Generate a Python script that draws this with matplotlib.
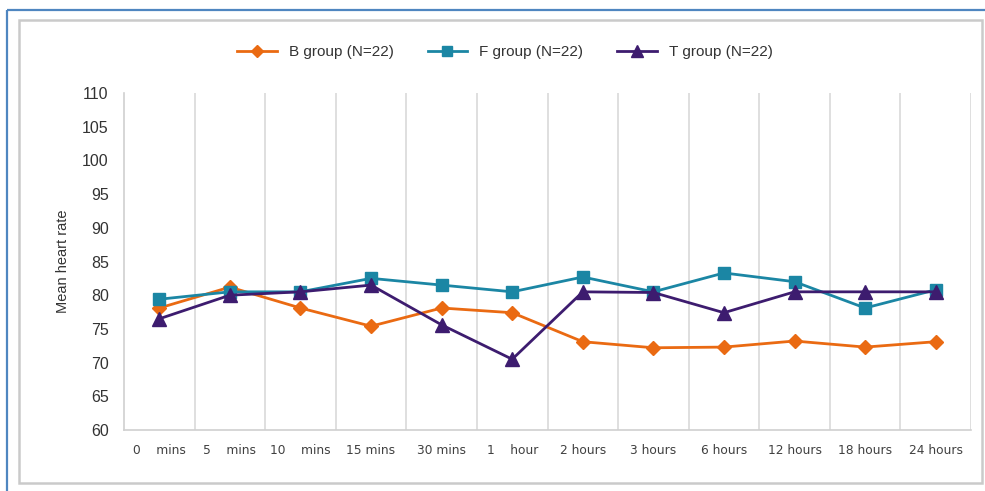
import matplotlib
matplotlib.use("Agg")
import matplotlib.pyplot as plt
from matplotlib.patches import Rectangle

categories = ["0    mins", "5    mins", "10    mins", "15 mins", "30 mins", "1    hour",
              "2 hours", "3 hours", "6 hours", "12 hours", "18 hours", "24 hours"]
b_group = [78.1, 81.2, 78.1, 75.4, 78.1, 77.4, 73.1, 72.2, 72.3, 73.2, 72.3, 73.1]
f_group = [79.4, 80.5, 80.5, 82.5, 81.5, 80.5, 82.7, 80.5, 83.3, 82.0, 78.1, 80.8]
t_group = [76.5, 80.0, 80.5, 81.5, 75.6, 70.5, 80.5, 80.4, 77.4, 80.5, 80.5, 80.5]
series_names = ["B group (N=22)", "F group (N=22)", "T group (N=22)"]
y_ticks = list(range(60, 111, 5))

W, H = 985, 491
fig = plt.figure(figsize=(W / 100, H / 100), dpi=100)
fig.patch.set_facecolor("white")

# outer blue frame and inner grey frame
fig.patches.append(Rectangle((7 / W, 1 - 10 / H), 2, -2, transform=fig.transFigure,
                             fill=False, edgecolor="#4F86C0", linewidth=1.6))
fig.patches.append(Rectangle((19 / W, 1 - 483 / H), (982 - 19) / W, (483 - 20) / H,
                             transform=fig.transFigure, fill=False,
                             edgecolor="#CACACA", linewidth=1.8))

ax = fig.add_axes([124 / W, 1 - 430 / H, (971 - 124) / W, (430 - 93) / H])
x = list(range(len(categories)))

colors = ["#EA6A12", "#1B86A4", "#3D1C6F"]
markers = ["D", "s", "^"]
sizes = [7.5, 8.5, 9.5]
for vals, c, m, s, name in zip([b_group, f_group, t_group], colors, markers, sizes, series_names):
    ax.plot(x, vals, color=c, marker=m, markersize=s, linewidth=2.0, label=name,
            markeredgecolor=c)

ax.set_xlim(-0.5, len(categories) - 0.5)
ax.set_ylim(60, 110)
ax.set_yticks(y_ticks)
ax.set_yticklabels([str(v) for v in y_ticks], fontsize=11.5, color="#333333",
                   family="Liberation Sans")
ax.set_xticks(x)
ax.set_xticklabels(categories, fontsize=8.8, color="#404040", family="DejaVu Sans")
ax.set_xticks([i + 0.5 for i in x], minor=True)
ax.tick_params(axis="both", which="both", length=0)
ax.tick_params(axis="x", pad=10)
ax.tick_params(axis="y", pad=11)
ax.grid(True, axis="x", which="minor", color="#D9D9D9", linewidth=1.2)
for side in ["top", "right"]:
    ax.spines[side].set_visible(False)
for side in ["left", "bottom"]:
    ax.spines[side].set_color("#D0D0D0")
    ax.spines[side].set_linewidth(1.2)

ax.set_ylabel("Mean heart rate", fontsize=10.5, color="#333333", family="Liberation Sans",
              labelpad=9)

leg = fig.legend(loc="center", bbox_to_anchor=(505 / W, 1 - 52 / H), ncol=3, frameon=False,
                 handlelength=2.6, columnspacing=2.2, markerscale=0.85,
                 prop={"family": "Liberation Sans", "size": 11})
for t in leg.get_texts():
    t.set_color("#333333")

fig.savefig("out.png", dpi=100, facecolor="white")
